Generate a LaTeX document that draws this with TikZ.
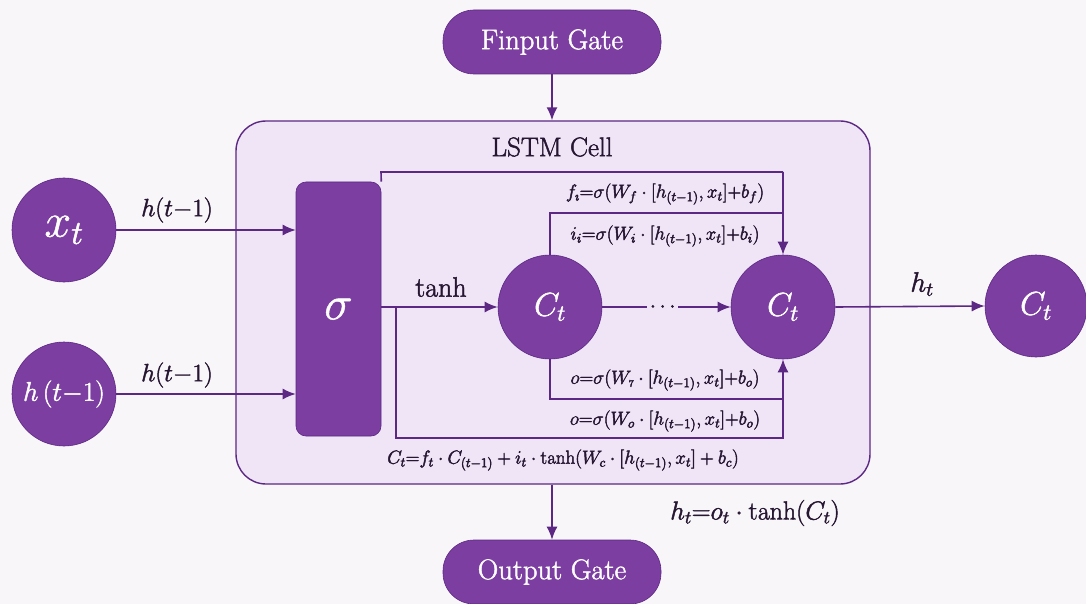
\RequirePackage{fix-cm}
\documentclass[tikz,border=0pt]{standalone}
\usetikzlibrary{arrows.meta}
\definecolor{gatefill}{RGB}{124,62,160}
\definecolor{wire}{RGB}{92,40,132}
\definecolor{cellbg}{RGB}{239,229,246}
\definecolor{paper}{RGB}{248,246,249}
\definecolor{ink}{RGB}{38,22,50}
\newcommand{\fs}[1]{\fontsize{#1}{#1}\selectfont}
% slightly heavier glyphs: fill and stroke the outlines
\newcommand{\thicktext}{\special{pdf:literal direct 2 Tr 0.45 w}}
\begin{document}
\begin{tikzpicture}[x=1pt,y=-1pt,
  every node/.append style={execute at begin node=\thicktext},
  wire/.style={draw=wire, line width=1.6pt},
  arr/.style={wire, -{Latex[length=13pt,width=11pt]}},
  ball/.style={circle, fill=gatefill, draw=wire, line width=0.6pt,
    text=white, inner sep=0pt},
  pill/.style={rectangle, rounded corners=31pt, fill=gatefill, draw=wire,
    line width=0.6pt, text=white, minimum width=218pt, minimum height=64pt,
    font=\fs{28.5}},
  eqn/.style={text=ink, inner sep=1pt, font=\fs{19}},
  lbl/.style={text=ink, inner sep=1pt}]

% canvas
\fill[paper] (0,0) rectangle (1086,604);
\useasboundingbox (0,0) rectangle (1086,604);

% the cell body
\node[draw=wire, fill=cellbg, line width=1.4pt, rounded corners=30pt,
      minimum width=634pt, minimum height=363pt] (cell) at (553,302.5) {};
\node[lbl, font=\fs{27}] (celltitle) at (552,147) {LSTM Cell};

% gates above and below
\node[pill] (ingate) at (552,42) {Finput Gate};
\node[pill] (outgate) at (552,572) {Output Gate};
\draw[arr] (ingate.south) -- (ingate.south |- cell.north);
\draw[arr] (outgate.north |- cell.south) -- (outgate.north);

% sigma block
\node[rectangle, rounded corners=10pt, fill=gatefill, draw=wire, line width=0.6pt,
      minimum width=85pt, minimum height=254pt, text=white, font=\fs{48}]
      (sig) at (338.5,309) {$\sigma$};

% inputs
\node[ball, minimum size=104pt, font=\fs{48}] (xt) at (64,230) {$x_t$};
\node[ball, minimum size=104pt, font=\fs{27}] (hprev) at (64,394) {$h\,(t{-}1)$};
\coordinate (sigA) at (sig.west |- xt);
\coordinate (sigB) at (sig.west |- hprev);
\draw[arr] (xt.east) -- (sigA);
\draw[arr] (hprev.east) -- (sigB);
\node[lbl, font=\fs{25}] (lxt) at (177,210) {$h(t{-}1)$};
\node[lbl, font=\fs{25}] (lhp) at (177,375) {$h(t{-}1)$};

% cell states
\node[ball, minimum size=104pt, font=\fs{33}] (c1) at (550,307) {$C_t$};
\node[ball, minimum size=104pt, font=\fs{33}] (c2) at (783,307) {$C_t$};
\node[ball, minimum size=102pt, font=\fs{33}] (cout) at (1036,306) {$C_t$};

\coordinate (sigout) at (sig.east |- c1);
\draw[arr] (sigout) -- (c1.west);
\node[lbl, font=\fs{28}] (ltanh) at (441,287) {tanh};
\draw[arr] (c1.east) -- (c2.west)
  node[pos=0.47, fill=cellbg, inner sep=3pt, text=ink, font=\fs{22}] (dots) {$\cdots$};
\draw[arr] (c2.east) -- (cout.west);
\node[lbl, font=\fs{28}] (lht) at (922,284) {$h_t$};

% forget / input paths into the second state
\coordinate (topL) at (381,172);
\coordinate (topR) at (783,172);
\coordinate (midL) at (550,213);
\coordinate (midR) at (783,213);
\draw[wire] (sig.north east) -- (topL) -- (topR);
\draw[arr] (topR) -- (c2.north);
\draw[wire] (c1.north) -- (midL) -- (midR);

% output paths into the second state
\coordinate (tap) at (396,307);
\coordinate (lowL) at (396,438);
\coordinate (lowR) at (783,438);
\coordinate (botL) at (550,399);
\coordinate (botR) at (783,399);
\draw[wire] (tap) -- (lowL) -- (lowR) -- (botR);
\draw[wire] (c1.south) -- (botL) -- (botR);
\draw[arr] (botR) -- (c2.south);

% gate equations
\node[eqn] (ef) at (665,194) {$f_{\imath}{=}\sigma(W_f\cdot[h_{(t-1)},x_t]{+}b_f)$};
\node[eqn] (ei) at (665,236) {$i_i{=}\sigma(W_i\cdot[h_{(t-1)},x_t]{+}b_i)$};
\node[eqn] (eo1) at (665,380) {$o{=}\sigma(W_{\scriptscriptstyle 7}\cdot[h_{(t-1)},x_t]{+}b_o)$};
\node[eqn] (eo2) at (665,421) {$o{=}\sigma(W_o\cdot[h_{(t-1)},x_t]{+}b_o)$};
\node[eqn] (ec) at (563,460) {$C_t{=}f_t\cdot C_{(t-1)}+i_t\cdot\mathrm{tanh}(W_c\cdot[h_{(t-1)},x_t]+b_c)$};
\node[lbl, font=\fs{26}] (eh) at (755,513) {$h_t{=}o_t\cdot\mathrm{tanh}(C_t)$};
\end{tikzpicture}
\end{document}
